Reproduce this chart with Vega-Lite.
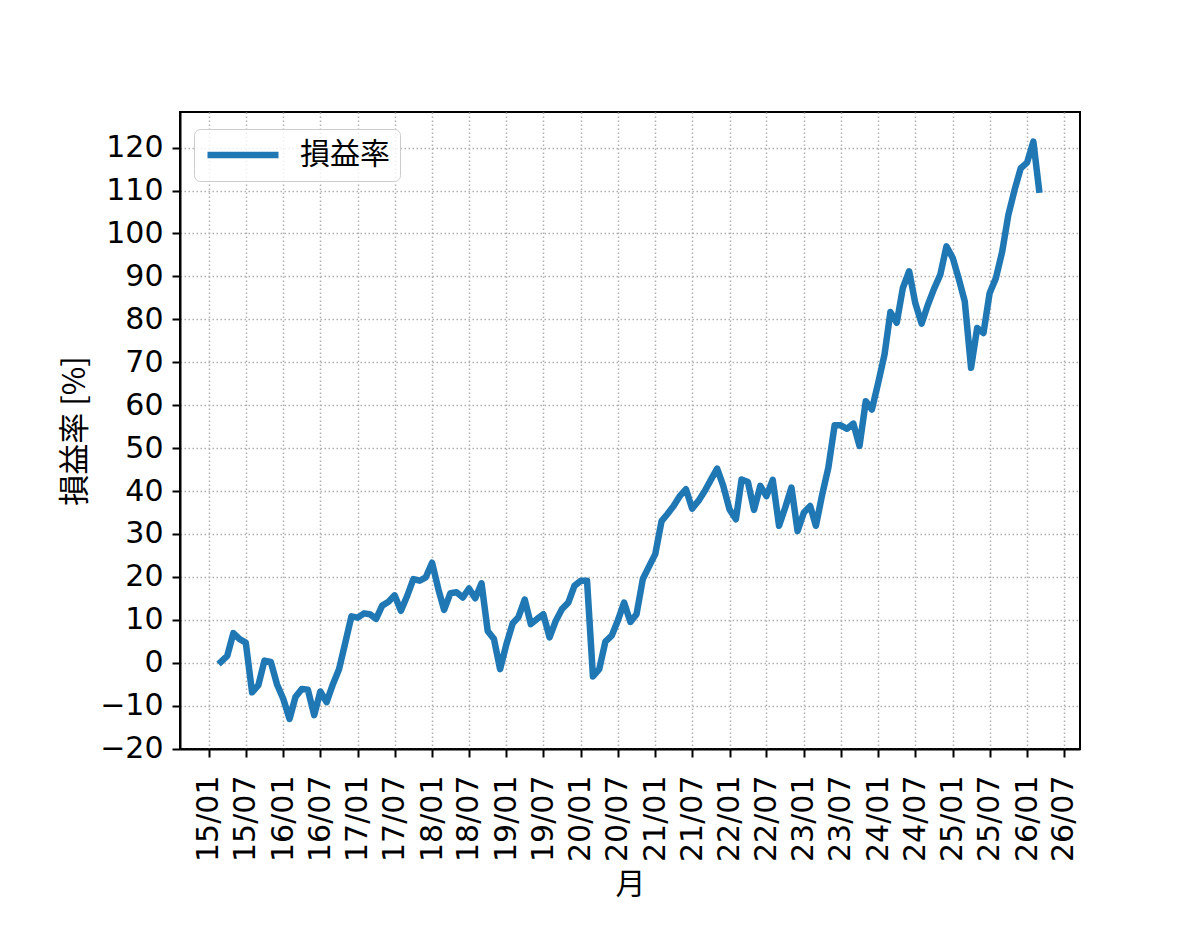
{
  "$schema": "https://vega.github.io/schema/vega-lite/v6.json",
  "width": 900,
  "height": 637,
  "autosize": {"type": "none"},
  "padding": {"left": 180, "top": 112, "right": 120, "bottom": 189},
  "background": "white",
  "config": {
    "view": {"stroke": "black", "strokeWidth": 2},
    "font": "DejaVu Sans, Noto Sans CJK JP",
    "axis": {
      "labelFont": "DejaVu Sans",
      "titleFont": "Noto Sans CJK JP",
      "labelFontSize": 30,
      "titleFontSize": 30,
      "titleFontWeight": "normal",
      "labelColor": "black",
      "titleColor": "black",
      "tickColor": "black",
      "tickSize": 8,
      "tickWidth": 2,
      "domainColor": "black",
      "domainWidth": 2,
      "grid": true,
      "gridColor": "#b0b0b0",
      "gridDash": [1.5, 2.5],
      "gridWidth": 1.5,
      "labelOverlap": false,
      "labelFlush": false
    }
  },
  "data": {
    "values": [
      {"date": "2015-03-01", "value": 0.2},
      {"date": "2015-04-01", "value": 1.6},
      {"date": "2015-05-01", "value": 6.9},
      {"date": "2015-06-01", "value": 5.5},
      {"date": "2015-07-01", "value": 4.7},
      {"date": "2015-08-01", "value": -6.9},
      {"date": "2015-09-01", "value": -5.2},
      {"date": "2015-10-01", "value": 0.5},
      {"date": "2015-11-01", "value": 0.2},
      {"date": "2015-12-01", "value": -5.0},
      {"date": "2016-01-01", "value": -8.4},
      {"date": "2016-02-01", "value": -13.1},
      {"date": "2016-03-01", "value": -8.0},
      {"date": "2016-04-01", "value": -6.1},
      {"date": "2016-05-01", "value": -6.3},
      {"date": "2016-06-01", "value": -12.2},
      {"date": "2016-07-01", "value": -6.7},
      {"date": "2016-08-01", "value": -9.2},
      {"date": "2016-09-01", "value": -5.0},
      {"date": "2016-10-01", "value": -1.5},
      {"date": "2016-11-01", "value": 4.7},
      {"date": "2016-12-01", "value": 10.8},
      {"date": "2017-01-01", "value": 10.5},
      {"date": "2017-02-01", "value": 11.5},
      {"date": "2017-03-01", "value": 11.3},
      {"date": "2017-04-01", "value": 10.2},
      {"date": "2017-05-01", "value": 13.3},
      {"date": "2017-06-01", "value": 14.2},
      {"date": "2017-07-01", "value": 15.7},
      {"date": "2017-08-01", "value": 12.1},
      {"date": "2017-09-01", "value": 15.6},
      {"date": "2017-10-01", "value": 19.5},
      {"date": "2017-11-01", "value": 19.1},
      {"date": "2017-12-01", "value": 19.9},
      {"date": "2018-01-01", "value": 23.3},
      {"date": "2018-02-01", "value": 17.1},
      {"date": "2018-03-01", "value": 12.3},
      {"date": "2018-04-01", "value": 16.2},
      {"date": "2018-05-01", "value": 16.4},
      {"date": "2018-06-01", "value": 15.2},
      {"date": "2018-07-01", "value": 17.3},
      {"date": "2018-08-01", "value": 15.0},
      {"date": "2018-09-01", "value": 18.5},
      {"date": "2018-10-01", "value": 7.4},
      {"date": "2018-11-01", "value": 5.5},
      {"date": "2018-12-01", "value": -1.5},
      {"date": "2019-01-01", "value": 4.3},
      {"date": "2019-02-01", "value": 9.2},
      {"date": "2019-03-01", "value": 10.6},
      {"date": "2019-04-01", "value": 14.7},
      {"date": "2019-05-01", "value": 9.0},
      {"date": "2019-06-01", "value": 10.2},
      {"date": "2019-07-01", "value": 11.3},
      {"date": "2019-08-01", "value": 5.9},
      {"date": "2019-09-01", "value": 9.8},
      {"date": "2019-10-01", "value": 12.5},
      {"date": "2019-11-01", "value": 14.0},
      {"date": "2019-12-01", "value": 17.9},
      {"date": "2020-01-01", "value": 19.1},
      {"date": "2020-02-01", "value": 19.1},
      {"date": "2020-03-01", "value": -3.2},
      {"date": "2020-04-01", "value": -1.5},
      {"date": "2020-05-01", "value": 4.9},
      {"date": "2020-06-01", "value": 6.3},
      {"date": "2020-07-01", "value": 9.8},
      {"date": "2020-08-01", "value": 14.0},
      {"date": "2020-09-01", "value": 9.5},
      {"date": "2020-10-01", "value": 11.3},
      {"date": "2020-11-01", "value": 19.5},
      {"date": "2020-12-01", "value": 22.4},
      {"date": "2021-01-01", "value": 25.3},
      {"date": "2021-02-01", "value": 33.0},
      {"date": "2021-03-01", "value": 34.6},
      {"date": "2021-04-01", "value": 36.5},
      {"date": "2021-05-01", "value": 38.8},
      {"date": "2021-06-01", "value": 40.4},
      {"date": "2021-07-01", "value": 35.9},
      {"date": "2021-08-01", "value": 37.7},
      {"date": "2021-09-01", "value": 40.0},
      {"date": "2021-10-01", "value": 42.6},
      {"date": "2021-11-01", "value": 45.2},
      {"date": "2021-12-01", "value": 41.2},
      {"date": "2022-01-01", "value": 35.7},
      {"date": "2022-02-01", "value": 33.4},
      {"date": "2022-03-01", "value": 42.7},
      {"date": "2022-04-01", "value": 42.1},
      {"date": "2022-05-01", "value": 35.6},
      {"date": "2022-06-01", "value": 41.2},
      {"date": "2022-07-01", "value": 38.8},
      {"date": "2022-08-01", "value": 42.6},
      {"date": "2022-09-01", "value": 31.9},
      {"date": "2022-10-01", "value": 36.1},
      {"date": "2022-11-01", "value": 40.8},
      {"date": "2022-12-01", "value": 30.7},
      {"date": "2023-01-01", "value": 35.0},
      {"date": "2023-02-01", "value": 36.5},
      {"date": "2023-03-01", "value": 31.9},
      {"date": "2023-04-01", "value": 39.2},
      {"date": "2023-05-01", "value": 45.4},
      {"date": "2023-06-01", "value": 55.3},
      {"date": "2023-07-01", "value": 55.3},
      {"date": "2023-08-01", "value": 54.5},
      {"date": "2023-09-01", "value": 55.7},
      {"date": "2023-10-01", "value": 50.5},
      {"date": "2023-11-01", "value": 60.9},
      {"date": "2023-12-01", "value": 59.0},
      {"date": "2024-01-01", "value": 65.2},
      {"date": "2024-02-01", "value": 71.8},
      {"date": "2024-03-01", "value": 81.7},
      {"date": "2024-04-01", "value": 79.2},
      {"date": "2024-05-01", "value": 87.3},
      {"date": "2024-06-01", "value": 91.2},
      {"date": "2024-07-01", "value": 83.8},
      {"date": "2024-08-01", "value": 79.0},
      {"date": "2024-09-01", "value": 83.4},
      {"date": "2024-10-01", "value": 87.1},
      {"date": "2024-11-01", "value": 90.4},
      {"date": "2024-12-01", "value": 97.0},
      {"date": "2025-01-01", "value": 94.3},
      {"date": "2025-02-01", "value": 89.2},
      {"date": "2025-03-01", "value": 84.2},
      {"date": "2025-04-01", "value": 68.7},
      {"date": "2025-05-01", "value": 78.0},
      {"date": "2025-06-01", "value": 76.8},
      {"date": "2025-07-01", "value": 86.1},
      {"date": "2025-08-01", "value": 89.6},
      {"date": "2025-09-01", "value": 95.8},
      {"date": "2025-10-01", "value": 104.3},
      {"date": "2025-11-01", "value": 110.2},
      {"date": "2025-12-01", "value": 115.2},
      {"date": "2026-01-01", "value": 116.5},
      {"date": "2026-02-01", "value": 121.4},
      {"date": "2026-03-01", "value": 110.2}
    ]
  },
  "mark": {
    "type": "line",
    "strokeWidth": 6.5,
    "strokeCap": "square",
    "strokeJoin": "round"
  },
  "encoding": {
    "x": {
      "field": "date",
      "type": "temporal",
      "scale": {
        "type": "utc",
        "domain": [
          {"year": 2014, "month": 8, "date": 12, "utc": true},
          {"year": 2026, "month": 9, "date": 18, "utc": true}
        ]
      },
      "axis": {
        "title": "月",
        "format": "%y/%m",
        "tickCount": {"interval": "month", "step": 6},
        "labelAngle": 270,
        "labelAlign": "right",
        "labelBaseline": "middle",
        "labelPadding": 18,
        "titlePadding": 8
      }
    },
    "y": {
      "field": "value",
      "type": "quantitative",
      "scale": {"domain": [-20.1, 128.3], "nice": false, "zero": false},
      "axis": {
        "title": "損益率 [%]",
        "titleFontSize": 31,
        "values": [-20, -10, 0, 10, 20, 30, 40, 50, 60, 70, 80, 90, 100, 110, 120],
        "format": "d",
        "labelPadding": 9,
        "titlePadding": 8
      }
    },
    "color": {
      "datum": "損益率",
      "scale": {"range": ["#1f77b4"]},
      "legend": {
        "title": null,
        "orient": "none",
        "legendX": 14,
        "legendY": 17,
        "symbolType": "stroke",
        "symbolSize": 5041,
        "symbolStrokeWidth": 6.5,
        "clipHeight": 32,
        "labelFontSize": 30,
        "labelFont": "Noto Sans CJK JP",
        "labelColor": "black",
        "labelOffset": 18,
        "padding": 10,
        "strokeColor": "#cccccc",
        "fillColor": "rgba(255,255,255,0.8)",
        "cornerRadius": 6
      }
    }
  }
}
